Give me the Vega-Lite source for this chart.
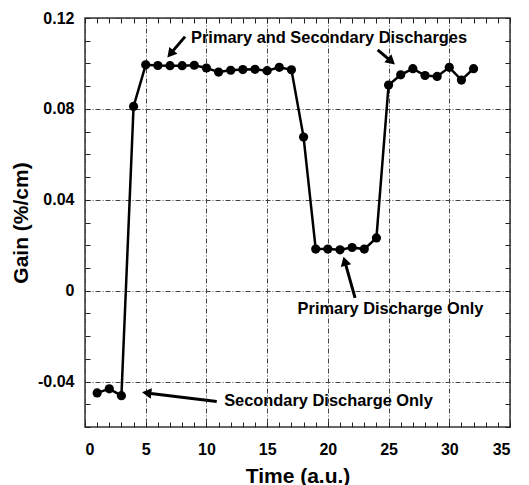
{
 "$schema": "https://vega.github.io/schema/vega-lite/v6.json",
 "width": 425, "height": 409,
 "autosize": {"type": "none"},
 "padding": {"left": 85, "top": 18, "right": 19, "bottom": 58},
 "background": "white",
 "config": {
  "view": {"stroke": "#333", "strokeWidth": 1.5},
  "font": "Liberation Sans",
  "axis": {"labelFont": "Liberation Sans", "titleFont": "Liberation Sans", "labelFontWeight": "bold", "titleFontWeight": "bold", "labelColor": "black", "titleColor": "black", "domain": false, "tickColor": "#222", "tickWidth": 1}
 },
 "datasets": {
  "gain": [
   {"t": 1, "gain": -0.0450}, {"t": 2, "gain": -0.0432}, {"t": 3, "gain": -0.0462}, {"t": 4, "gain": 0.0811},
   {"t": 5, "gain": 0.0994}, {"t": 6, "gain": 0.0991}, {"t": 7, "gain": 0.0990}, {"t": 8, "gain": 0.0990},
   {"t": 9, "gain": 0.0992}, {"t": 10, "gain": 0.0980}, {"t": 11, "gain": 0.0962}, {"t": 12, "gain": 0.0970},
   {"t": 13, "gain": 0.0973}, {"t": 14, "gain": 0.0974}, {"t": 15, "gain": 0.0968}, {"t": 16, "gain": 0.0983},
   {"t": 17, "gain": 0.0972}, {"t": 18, "gain": 0.0676}, {"t": 19, "gain": 0.0183}, {"t": 20, "gain": 0.0183},
   {"t": 21, "gain": 0.0180}, {"t": 22, "gain": 0.0190}, {"t": 23, "gain": 0.0183}, {"t": 24, "gain": 0.0232},
   {"t": 25, "gain": 0.0905}, {"t": 26, "gain": 0.0950}, {"t": 27, "gain": 0.0977}, {"t": 28, "gain": 0.0947},
   {"t": 29, "gain": 0.0943}, {"t": 30, "gain": 0.0983}, {"t": 31, "gain": 0.0927}, {"t": 32, "gain": 0.0977}
  ],
  "notes": [
   {"label": "Primary and Secondary Discharges", "x": 20.1, "y": 0.1111},
   {"label": "Primary Discharge Only", "x": 25.16, "y": -0.008},
   {"label": "Secondary Discharge Only", "x": 20.05, "y": -0.0487}
  ],
  "arrows": [
   {"id": 1, "tx": 8.24, "ty": 0.1118, "hx": 7.03, "hy": 0.1042},
   {"id": 2, "tx": 24.1, "ty": 0.106, "hx": 25.23, "hy": 0.1009},
   {"id": 3, "tx": 22.24, "ty": -0.0032, "hx": 21.39, "hy": 0.0130},
   {"id": 4, "tx": 10.85, "ty": -0.0488, "hx": 5.08, "hy": -0.0450}
  ]
 },
 "resolve": {"axis": {"x": "independent", "y": "independent"}},
 "layer": [
  {
   "data": {"name": "gain"},
   "mark": {"type": "line", "color": "black", "strokeWidth": 2.5},
   "encoding": {
    "x": {"field": "t", "type": "quantitative", "scale": {"domain": [0, 35], "nice": false, "zero": false},
     "axis": {"orient": "bottom", "values": [0, 5, 10, 15, 20, 25, 30, 35], "grid": true, "gridDash": [5, 2, 1, 2], "gridColor": "#444", "gridWidth": 1, "ticks": false, "labelFontSize": 16, "labelPadding": 14, "title": "Time (a.u.)", "titleFontSize": 21, "titlePadding": 8}},
    "y": {"field": "gain", "type": "quantitative", "scale": {"domain": [-0.06, 0.12], "nice": false, "zero": false},
     "axis": {"orient": "left", "values": [-0.04, 0, 0.04, 0.08, 0.12], "grid": true, "gridDash": [5, 2, 1, 2], "gridColor": "#444", "gridWidth": 1, "ticks": false, "labelFontSize": 16, "labelPadding": 11,
      "labelExpr": "datum.value == 0 ? '0' : (datum.value < 0 ? '-' + format(-datum.value, '.2f') : format(datum.value, '.2f'))",
      "title": "Gain (%/cm)", "titleFontSize": 21, "titlePadding": 6}}
   }
  },
  {
   "data": {"name": "gain"},
   "mark": {"type": "point", "filled": true, "color": "black", "opacity": 1, "size": 85},
   "encoding": {
    "x": {"field": "t", "type": "quantitative", "scale": {"domain": [0, 35], "nice": false, "zero": false},
     "axis": {"orient": "bottom", "values": [0,1,2,3,4,5,6,7,8,9,10,11,12,13,14,15,16,17,18,19,20,21,22,23,24,25,26,27,28,29,30,31,32,33,34,35], "labels": false, "grid": false, "tickSize": -5, "title": null}},
    "y": {"field": "gain", "type": "quantitative", "scale": {"domain": [-0.06, 0.12], "nice": false, "zero": false},
     "axis": {"orient": "left", "values": [-0.06,-0.05,-0.04,-0.03,-0.02,-0.01,0,0.01,0.02,0.03,0.04,0.05,0.06,0.07,0.08,0.09,0.1,0.11,0.12], "labels": false, "grid": false, "tickSize": -5, "title": null}}
   }
  },
  {
   "data": {"name": "arrows"},
   "mark": {"type": "rule", "color": "black", "strokeWidth": 3},
   "encoding": {
    "x": {"field": "tx", "type": "quantitative", "scale": {"domain": [0, 35], "nice": false, "zero": false},
     "axis": {"orient": "top", "values": [0,1,2,3,4,5,6,7,8,9,10,11,12,13,14,15,16,17,18,19,20,21,22,23,24,25,26,27,28,29,30,31,32,33,34,35], "labels": false, "grid": false, "tickSize": -5, "title": null}},
    "y": {"field": "ty", "type": "quantitative", "scale": {"domain": [-0.06, 0.12], "nice": false, "zero": false},
     "axis": {"orient": "right", "values": [-0.06,-0.05,-0.04,-0.03,-0.02,-0.01,0,0.01,0.02,0.03,0.04,0.05,0.06,0.07,0.08,0.09,0.1,0.11,0.12], "labels": false, "grid": false, "tickSize": -5, "title": null}},
    "x2": {"field": "hx"},
    "y2": {"field": "hy"}
   }
  },
  {
   "data": {"name": "arrows"},
   "transform": [{"filter": "datum.id == 1"}],
   "mark": {"type": "point", "shape": "triangle-up", "filled": true, "color": "black", "opacity": 1, "size": 115, "angle": 220.6},
   "encoding": {"x": {"field": "hx", "type": "quantitative", "axis": null}, "y": {"field": "hy", "type": "quantitative", "axis": null}}
  },
  {
   "data": {"name": "arrows"},
   "transform": [{"filter": "datum.id == 2"}],
   "mark": {"type": "point", "shape": "triangle-up", "filled": true, "color": "black", "opacity": 1, "size": 115, "angle": 131.4},
   "encoding": {"x": {"field": "hx", "type": "quantitative", "axis": null}, "y": {"field": "hy", "type": "quantitative", "axis": null}}
  },
  {
   "data": {"name": "arrows"},
   "transform": [{"filter": "datum.id == 3"}],
   "mark": {"type": "point", "shape": "triangle-up", "filled": true, "color": "black", "opacity": 1, "size": 115, "angle": 344.3},
   "encoding": {"x": {"field": "hx", "type": "quantitative", "axis": null}, "y": {"field": "hy", "type": "quantitative", "axis": null}}
  },
  {
   "data": {"name": "arrows"},
   "transform": [{"filter": "datum.id == 4"}],
   "mark": {"type": "point", "shape": "triangle-up", "filled": true, "color": "black", "opacity": 1, "size": 115, "angle": 276.8},
   "encoding": {"x": {"field": "hx", "type": "quantitative", "axis": null}, "y": {"field": "hy", "type": "quantitative", "axis": null}}
  },
  {
   "data": {"name": "notes"},
   "mark": {"type": "text", "font": "Liberation Sans", "fontWeight": "bold", "fontSize": 16.4, "color": "black", "align": "center", "baseline": "middle"},
   "encoding": {
    "x": {"field": "x", "type": "quantitative", "axis": null},
    "y": {"field": "y", "type": "quantitative", "axis": null},
    "text": {"field": "label"}
   }
  }
 ]
}
